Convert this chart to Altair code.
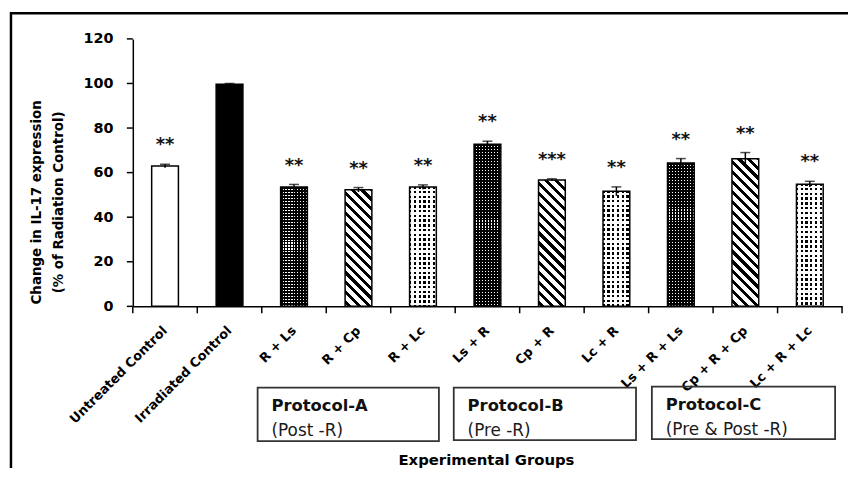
import altair as alt
import pandas as pd

# ---------------- data ----------------
groups = ["Untreated Control", "Irradiated Control", "R + Ls", "R + Cp", "R + Lc",
          "Ls + R", "Cp + R", "Lc + R", "Ls + R + Ls", "Cp + R + Cp", "Lc + R + Lc"]
values = [63.0, 99.6, 53.5, 52.3, 53.5, 72.7, 56.7, 51.6, 64.3, 66.2, 54.8]
errors = [0.8, 0.4, 1.2, 1.0, 1.0, 1.4, 0.5, 2.0, 2.0, 2.8, 1.3]
stars = ["**", "", "**", "**", "**", "**", "***", "**", "**", "**", "**"]
patterns = ["open", "solid", "grid", "stripe", "dots", "grid", "stripe", "dots",
            "grid", "stripe", "dots"]
protocols = ["Protocol-A", "Protocol-B", "Protocol-C"]
protocol_notes = ["(Post -R)", "(Pre -R)", "(Pre & Post -R)"]
y_ticks = [0, 20, 40, 60, 80, 100, 120]
y_title = ["Change in IL-17 expression", "(% of Radiation Control)"]
x_title = "Experimental Groups"

# ---------------- layout / style ----------------
W, H = 716, 270
YMAX = 120
PX = H / YMAX
PAD_INNER = 0.585
STEP = W / len(groups)
BAR_W = STEP * (1 - PAD_INNER)
HALF_GAP = STEP * PAD_INNER / 2
FONT = "DejaVu Sans"

df = pd.DataFrame({"group": groups, "value": values, "err": errors,
                   "stars": stars, "pattern": patterns})
df["lo"] = df["value"] - df["err"]
df["hi"] = df["value"] + df["err"]
ticks_df = pd.DataFrame({"t": y_ticks})
one = pd.DataFrame({"k": [0]})

xscale = alt.Scale(domain=groups, paddingInner=PAD_INNER, paddingOuter=PAD_INNER / 2)
yscale = alt.Scale(domain=[0, YMAX], nice=False)

X_AXIS = alt.Axis(title=None, labelAngle=-45, labelAlign="right",
                  labelBaseline="middle", labelFont=FONT,
                  labelFontWeight="bold", labelFontSize=13,
                  labelColor="black", labelPadding=22, ticks=False,
                  domainColor="black", domainWidth=1.5, labelOverlap=False)
Y_AXIS = alt.Axis(values=y_ticks, title=None, grid=False, labelFont=FONT,
                  labelFontWeight="bold", labelFontSize=14.5,
                  labelColor="black", labelPadding=20, ticks=False,
                  domainColor="black", domainWidth=1.5)


def xe(band=None):
    if band is None:
        return alt.X("group:N", sort=groups, scale=xscale, axis=X_AXIS)
    return alt.X("group:N", sort=groups, scale=xscale, axis=X_AXIS, bandPosition=band)


def ye(field="value"):
    return alt.Y(f"{field}:Q", scale=yscale, axis=Y_AXIS)


def stripe_stops(length, period, on, c_on, c_off, phase=0.0):
    stops = []
    pos = -phase
    while pos < length:
        a = max(pos, 0) / length
        b = min(max(pos + on, 0), length) / length
        c = min(pos + period, length) / length
        stops += [{"offset": round(a, 5), "color": c_on},
                  {"offset": round(b, 5), "color": c_on},
                  {"offset": round(b, 5), "color": c_off},
                  {"offset": round(c, 5), "color": c_off}]
        pos += period
    return stops


def grad(stops, x1, y1, x2, y2):
    return {"gradient": "linear", "x1": x1, "y1": y1, "x2": x2, "y2": y2,
            "stops": stops}


CLEAR = "rgba(255,255,255,0)"

layers = []
# base bars (open and solid)
layers.append(alt.Chart(df).transform_filter(alt.datum.pattern == "open")
              .mark_bar(fill="white", stroke="black", strokeWidth=1.5)
              .encode(x=xe(), y=ye()))
layers.append(alt.Chart(df).transform_filter(alt.datum.pattern == "solid")
              .mark_bar(fill="black", stroke="black", strokeWidth=1.5)
              .encode(x=xe(), y=ye()))

for g, v, p in zip(groups, values, patterns):
    h = v * PX
    base = alt.Chart(df).transform_filter(alt.FieldEqualPredicate(field="group", equal=g))
    if p == "stripe":
        w = BAR_W
        s = (w + h) / (w * w + h * h)
        fill = grad(stripe_stops(w + h, 10.0, 4.2, "black", "white", 2.0),
                    1, 0, 1 - s * w, s * h)
        layers.append(base.mark_bar(fill=fill, stroke="black", strokeWidth=1.5)
                      .encode(x=xe(), y=ye()))
    elif p == "grid":
        f1 = grad(stripe_stops(h, 3.0, 1.9, "black", "white"), 0, 0, 0, 1)
        f2 = grad(stripe_stops(BAR_W, 3.0, 1.9, "black", CLEAR), 0, 0, 1, 0)
        layers.append(base.mark_bar(fill=f1, strokeWidth=0).encode(x=xe(), y=ye()))
        layers.append(base.mark_bar(fill=f2, stroke="black", strokeWidth=1.5)
                      .encode(x=xe(), y=ye()))
    elif p == "dots":
        f1 = grad(stripe_stops(h, 4.8, 2.5, "black", "white", 1.0), 0, 0, 0, 1)
        f2 = grad(stripe_stops(BAR_W, 4.8, 2.3, CLEAR, "white", 0.5), 0, 0, 1, 0)
        layers.append(base.mark_bar(fill=f1, strokeWidth=0).encode(x=xe(), y=ye()))
        layers.append(base.mark_bar(fill=f2, stroke="black", strokeWidth=1.5)
                      .encode(x=xe(), y=ye()))

# axis ticks (drawn as rules: y at tick values, x at category boundaries)
layers.append(alt.Chart(ticks_df).mark_rule(color="black", strokeWidth=1.5)
              .encode(y=alt.Y("t:Q", scale=yscale, axis=Y_AXIS),
                      x=alt.value(-6), x2=alt.value(0)))
layers.append(alt.Chart(df).mark_rule(color="black", strokeWidth=1.5, xOffset=-HALF_GAP)
              .encode(x=xe(0), y=alt.value(H), y2=alt.value(H + 7)))
layers.append(alt.Chart(df).transform_filter(alt.datum.group == groups[-1])
              .mark_rule(color="black", strokeWidth=1.5, xOffset=HALF_GAP)
              .encode(x=xe(1), y=alt.value(H), y2=alt.value(H + 7)))

# error bars
layers.append(alt.Chart(df).mark_rule(color="black", strokeWidth=1.5)
              .encode(x=xe(), y=ye("lo"), y2="hi:Q"))
layers.append(alt.Chart(df).mark_tick(color="black", size=10, thickness=1.5)
              .encode(x=xe(), y=ye("hi")))
# significance stars
layers.append(alt.Chart(df).mark_text(font=FONT, fontWeight="bold", fontSize=18,
                                      baseline="alphabetic", dy=-14, color="#111111")
              .encode(x=xe(), y=ye("hi"), text="stars:N"))

# protocol boxes
box_pos = [(126, 309, 352, 406), (324, 508, 352, 405), (524, 709, 351, 404)]
for (x1, x2, y1, y2), name, note in zip(box_pos, protocols, protocol_notes):
    layers.append(alt.Chart(one).mark_rect(filled=False, stroke="#333333", strokeWidth=1.8)
                  .encode(x=alt.value(x1), x2=alt.value(x2), y=alt.value(y1), y2=alt.value(y2)))
    layers.append(alt.Chart(one).mark_text(text=name, font=FONT, fontWeight="bold",
                                           fontSize=16.5, align="left",
                                           baseline="alphabetic", color="#111111")
                  .encode(x=alt.value(x1 + 14), y=alt.value(y1 + 24)))
    layers.append(alt.Chart(one).mark_text(text=note, font=FONT, fontSize=17,
                                           align="left", baseline="alphabetic",
                                           color="#1a1a1a")
                  .encode(x=alt.value(x1 + 14), y=alt.value(y1 + 49)))

# axis titles
for i, line in enumerate(y_title):
    layers.append(alt.Chart(one).mark_text(text=line, font=FONT, fontWeight="bold",
                                           fontSize=13.5, angle=270, align="center",
                                           baseline="middle", color="black")
                  .encode(x=alt.value(-97 + 23 * i), y=alt.value(165)))
layers.append(alt.Chart(one).mark_text(text=x_title, font=FONT, fontWeight="bold",
                                       fontSize=15, align="center",
                                       baseline="alphabetic", color="black")
              .encode(x=alt.value(357), y=alt.value(430)))

# outer frame (left and top lines)
layers.append(alt.Chart(one).mark_rule(color="black", strokeWidth=2.5)
              .encode(x=alt.value(-123), y=alt.value(-27), y2=alt.value(440)))
layers.append(alt.Chart(one).mark_rule(color="black", strokeWidth=2.5)
              .encode(x=alt.value(-124), x2=alt.value(730), y=alt.value(-26)))

chart = alt.layer(*layers).properties(
    width=W, height=H,
    autosize=alt.AutoSizeParams(type="none"),
    padding={"left": 126, "top": 29, "right": 6, "bottom": 161},
).configure_view(stroke=None)

chart.save("out.html", embed_options={"renderer": "svg", "actions": False})
